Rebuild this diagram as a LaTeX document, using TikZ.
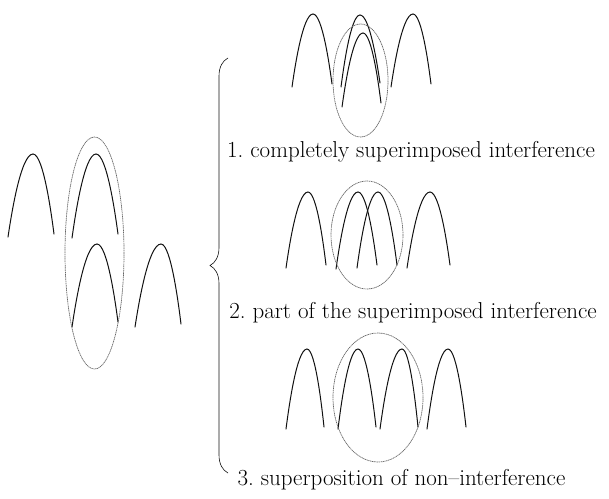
\documentclass[tikz,border=0pt]{standalone}
\usetikzlibrary{decorations.pathreplacing}
\definecolor{Ink}{HTML}{111111}
\definecolor{RingGray}{HTML}{666666}
\frenchspacing

\begin{document}
\begin{tikzpicture}[x=1pt,y=-1pt,
    wave/.style={line width=1pt,Ink,line cap=round},
    ring/.style={RingGray,line width=0.7pt,dash pattern=on 1.2pt off 0.6pt},
    caption/.style={font=\fontsize{23}{27}\selectfont,inner sep=0pt}]
  \useasboundingbox (0,0) rectangle (609,498);
  % pulses before the split
  \foreach \xa/\ya/\xb/\yb/\xc/\yc in {
    8/237/33/154/54/234, 72/238/96/154/118/234,
    72/327/97/244/118/322, 135/327/161/244/181/324}
    \draw[wave] (\xa,\ya) parabola bend (\xb,\yb) (\xc,\yc);
  \draw[ring] (94.5,253) ellipse (29.5pt and 116pt);
  % three cases
  \foreach \xa/\ya/\xb/\yb/\xc/\yc in {
    292/87/313/14/332/84, 341/87/360/15/380/83,
    342/107/363/33/381/103, 391/87/413/14/431/84,
    286/268/308/192/326/265, 336/269/358/192/377/265,
    357/268/378/192/397/265, 407/268/430/192/450/265,
    286/429/307/349/324/427, 338/429/358/349/376/427,
    380/429/402/349/418/427, 427/429/448/349/466/427}
    \draw[wave] (\xa,\ya) parabola bend (\xb,\yb) (\xc,\yc);
  \draw[ring] (360.5,80.5) ellipse (27.5pt and 56.5pt);
  \draw[ring] (367,235) ellipse (36pt and 54pt);
  \draw[ring] (378,397.5) ellipse (45pt and 64.5pt);
  % brace
  \coordinate (brace top) at (228,58);
  \coordinate (brace bottom) at (228,473);
  \draw[Ink,line width=0.6pt,decorate,decoration={brace,amplitude=18pt}]
    (brace bottom) -- (brace top);
  \node[caption] (lab1) at (411,152) {1. completely superimposed interference};
  \node[caption] (lab2) at (413,313) {2. part of the superimposed interference};
  \node[caption] (lab3) at (401.5,480) {3. superposition of non--interference};
\end{tikzpicture}
\end{document}
